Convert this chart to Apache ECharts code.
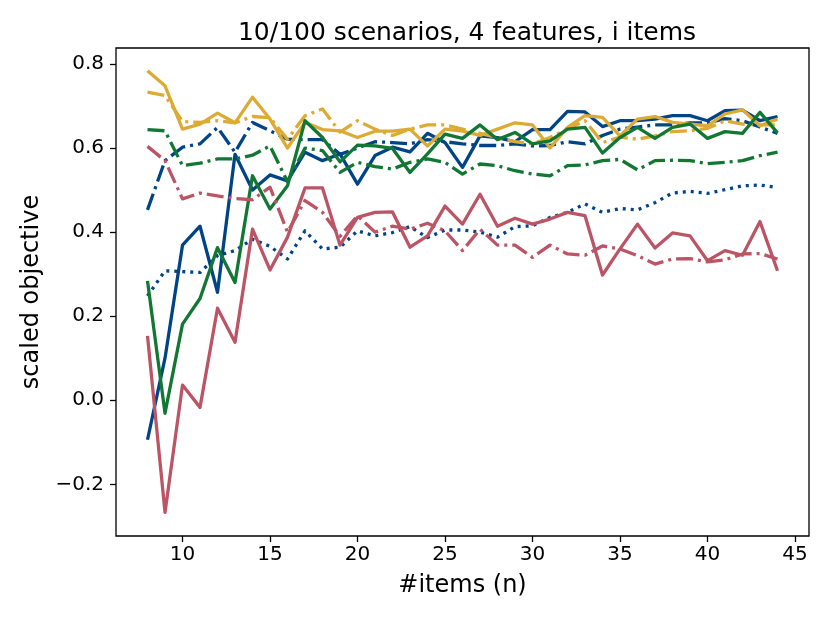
<!DOCTYPE html>
<html>
<head>
<meta charset="utf-8">
<script src="https://cdn.jsdelivr.net/npm/echarts@6/dist/echarts.min.js"></script>
<style>
  html, body { margin: 0; padding: 0; background: #fff; }
  #chart-container { width: 830px; height: 623px; }
</style>
</head>
<body>
<div id="chart-container"></div>
<script>
var items = [8, 9, 10, 11, 12, 13, 14, 15, 16, 17, 18, 19, 20, 21, 22, 23, 24, 25, 26,
  27, 28, 29, 30, 31, 32, 33, 34, 35, 36, 37, 38, 39, 40, 41, 42, 43, 44];

var xTicks = [10, 15, 20, 25, 30, 35, 40, 45];
var yTicks = [-0.2, 0, 0.2, 0.4, 0.6, 0.8];

// blue
var blueSolid = [-0.094, 0.1, 0.369, 0.414, 0.257, 0.585, 0.5, 0.536, 0.522, 0.59, 0.57, 0.586,
  0.514, 0.582, 0.602, 0.591, 0.635, 0.613, 0.554, 0.629, 0.625, 0.615, 0.644, 0.644, 0.687,
  0.686, 0.651, 0.665, 0.665, 0.669, 0.677, 0.677, 0.665, 0.689, 0.69, 0.665, 0.675];
var blueDashDot = [0.453, 0.57, 0.602, 0.61, 0.649, 0.59, 0.661, 0.641, 0.621, 0.62, 0.62, 0.585,
  0.6, 0.615, 0.613, 0.61, 0.62, 0.615, 0.61, 0.606, 0.606, 0.61, 0.605, 0.606, 0.615,
  0.61, 0.63, 0.645, 0.65, 0.655, 0.655, 0.66, 0.66, 0.67, 0.665, 0.65, 0.635];
var blueDotted = [0.248, 0.308, 0.306, 0.304, 0.344, 0.356, 0.383, 0.366, 0.336, 0.403, 0.36, 0.364,
  0.403, 0.391, 0.399, 0.413, 0.387, 0.405, 0.405, 0.4, 0.388, 0.413, 0.415, 0.435, 0.447,
  0.467, 0.447, 0.456, 0.453, 0.47, 0.493, 0.497, 0.492, 0.501, 0.51, 0.512, 0.506];

// green
var greenSolid = [0.284, -0.031, 0.181, 0.242, 0.363, 0.28, 0.534, 0.455, 0.51, 0.665, 0.625, 0.567,
  0.607, 0.605, 0.599, 0.542, 0.586, 0.633, 0.623, 0.655, 0.62, 0.637, 0.61, 0.617, 0.645,
  0.649, 0.588, 0.625, 0.649, 0.623, 0.649, 0.657, 0.623, 0.639, 0.635, 0.685, 0.636];
var greenDashDot = [0.644, 0.641, 0.558, 0.564, 0.574, 0.574, 0.583, 0.605, 0.52, 0.6, 0.594, 0.542,
  0.566, 0.556, 0.55, 0.566, 0.574, 0.566, 0.538, 0.562, 0.558, 0.546, 0.538, 0.534, 0.558,
  0.56, 0.57, 0.573, 0.548, 0.57, 0.571, 0.57, 0.563, 0.566, 0.57, 0.582, 0.59];

// yellow
var yellowSolid = [0.784, 0.748, 0.645, 0.657, 0.683, 0.66, 0.721, 0.669, 0.6, 0.661, 0.644, 0.641,
  0.625, 0.64, 0.64, 0.645, 0.605, 0.645, 0.64, 0.63, 0.645, 0.66, 0.655, 0.6, 0.649,
  0.677, 0.673, 0.629, 0.669, 0.675, 0.661, 0.657, 0.653, 0.681, 0.691, 0.653, 0.669];
var yellowDashDot = [0.733, 0.725, 0.663, 0.661, 0.665, 0.66, 0.675, 0.672, 0.621, 0.677, 0.693, 0.638,
  0.665, 0.645, 0.63, 0.645, 0.655, 0.655, 0.645, 0.635, 0.625, 0.615, 0.61, 0.625, 0.645,
  0.665, 0.613, 0.626, 0.621, 0.629, 0.639, 0.641, 0.647, 0.665, 0.657, 0.655, 0.655];

// red
var redSolid = [0.153, -0.267, 0.036, -0.017, 0.219, 0.138, 0.407, 0.31, 0.388, 0.505, 0.505, 0.369,
  0.435, 0.447, 0.448, 0.364, 0.391, 0.462, 0.419, 0.49, 0.414, 0.433, 0.419, 0.431, 0.447,
  0.439, 0.298, 0.36, 0.419, 0.362, 0.398, 0.391, 0.332, 0.356, 0.345, 0.425, 0.308];
var redDashDot = [0.604, 0.57, 0.479, 0.493, 0.486, 0.48, 0.477, 0.507, 0.4, 0.475, 0.447, 0.39,
  0.439, 0.4, 0.414, 0.407, 0.421, 0.403, 0.356, 0.407, 0.369, 0.369, 0.34, 0.369, 0.348,
  0.345, 0.367, 0.36, 0.344, 0.324, 0.336, 0.337, 0.329, 0.334, 0.348, 0.349, 0.336];

var BLUE = '#004488', GREEN = '#117733', YELLOW = '#DDAA33', RED = '#BB5566';
var DASHDOT = [17, 5, 3, 5], DOTTED = [3, 5];

function pairs(vals) {
  return items.map(function (n, i) { return [n, vals[i]]; });
}

function line(name, vals, color, type) {
  return {
    name: name,
    type: 'line',
    data: pairs(vals),
    showSymbol: false,
    animation: false,
    lineStyle: { color: color, width: 3.3, type: type, cap: 'butt', join: 'round' }
  };
}

var dom = document.getElementById('chart-container');
var myChart = echarts.init(dom, null, { renderer: 'canvas' });

var font = 'DejaVu Sans';
var option = {
  backgroundColor: '#fff',
  title: {
    text: '10/100 scenarios, 4 features, i items',
    left: 462,
    top: 16,
    textAlign: 'center',
    textStyle: { fontFamily: font, fontSize: 25, fontWeight: 'normal', color: '#000' }
  },
  grid: {
    left: 116, right: 21, top: 48, bottom: 87,
    show: true, borderColor: '#000', borderWidth: 1.3, backgroundColor: '#fff'
  },
  xAxis: {
    type: 'value',
    min: 6.2,
    max: 45.8,
    name: '#items (n)',
    nameLocation: 'middle',
    nameGap: 38,
    nameTextStyle: { fontFamily: font, fontSize: 24, color: '#000' },
    axisLine: { show: false, onZero: false },
    splitLine: { show: false },
    axisTick: { show: true, inside: false, length: 6, customValues: xTicks, lineStyle: { color: '#000', width: 1.3 } },
    axisLabel: { customValues: xTicks, fontFamily: font, fontSize: 20, color: '#000', margin: 9 }
  },
  yAxis: {
    type: 'value',
    min: -0.323,
    max: 0.838,
    name: 'scaled objective',
    nameLocation: 'middle',
    nameGap: 72,
    nameTextStyle: { fontFamily: font, fontSize: 24, color: '#000' },
    axisLine: { show: false, onZero: false },
    splitLine: { show: false },
    axisTick: { show: true, inside: false, length: 6, customValues: yTicks, lineStyle: { color: '#000', width: 1.3 } },
    axisLabel: {
      customValues: yTicks, fontFamily: font, fontSize: 20, color: '#000', margin: 12,
      formatter: function (v) { return (v < 0 ? '\u2212' : '') + Math.abs(v).toFixed(1); }
    }
  },
  series: [
    line('blue solid', blueSolid, BLUE, 'solid'),
    line('blue dash-dot', blueDashDot, BLUE, DASHDOT),
    line('blue dotted', blueDotted, BLUE, DOTTED),
    line('yellow solid', yellowSolid, YELLOW, 'solid'),
    line('yellow dash-dot', yellowDashDot, YELLOW, DASHDOT),
    line('green solid', greenSolid, GREEN, 'solid'),
    line('green dash-dot', greenDashDot, GREEN, DASHDOT),
    line('red solid', redSolid, RED, 'solid'),
    line('red dash-dot', redDashDot, RED, DASHDOT)
  ]
};

if (option && typeof option === 'object') {
  myChart.setOption(option);
}

window.addEventListener('resize', myChart.resize);
</script>
</body>
</html>
